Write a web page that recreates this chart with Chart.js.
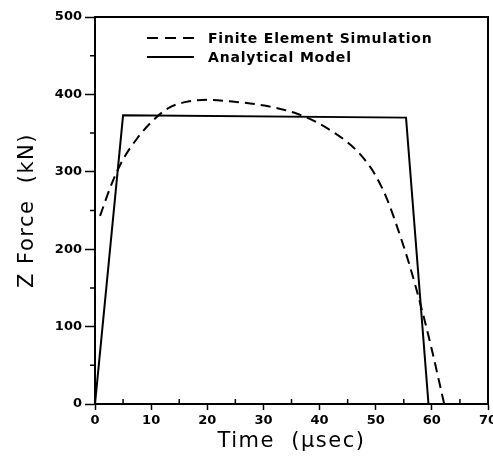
<!DOCTYPE html>
<html><head><meta charset="utf-8">
<script src="https://cdn.jsdelivr.net/npm/chart.js@4"></script>
<style>html,body{margin:0;padding:0;background:#fff}</style>
</head><body>
<canvas id="c" width="493" height="463"></canvas>
<script>
// ---- data ----
const feTime  = [0.9, 3, 5, 7.5, 10, 13, 16, 20, 24, 28, 32, 36, 39.5, 42.5, 45.5, 48, 50, 52, 54, 56, 58, 60, 62.2];
const feForce = [243, 285, 316, 343, 364, 382, 390, 393, 391, 388, 383, 375, 364, 351, 335, 316, 295, 265, 225, 180, 128, 70, 0];
const amTime  = [0, 5, 55.4, 59.4];
const amForce = [0, 373, 370, 0];
const xTicks  = [0, 10, 20, 30, 40, 50, 60, 70];
const yTicks  = [0, 100, 200, 300, 400, 500];
const xMinor  = [5, 15, 25, 35, 45, 55, 65];
const yMinor  = [50, 150, 250, 350, 450];
const seriesLabels = ['Finite Element Simulation', 'Analytical Model'];
const xTitle = 'Time  (\u03bcsec)';
const yTitle = 'Z Force  (kN)';

const toXY = (xs, ys) => xs.map((x, i) => ({x, y: ys[i]}));

// widen only the axis-title lettering
function spacedTitle(s) {
  if (s._spaced) return;
  const orig = s.drawTitle.bind(s);
  s.drawTitle = function () {
    const c = this.ctx; const prev = c.letterSpacing;
    c.letterSpacing = '1.5px'; orig(); c.letterSpacing = prev;
  };
  s._spaced = true;
}

const frame = {
  id: 'frame',
  afterDatasetsDraw(chart) {
    const {ctx, chartArea: a, scales: {x, y}} = chart;
    ctx.save();
    ctx.strokeStyle = '#000';
    ctx.lineWidth = 2;
    ctx.beginPath();
    ctx.moveTo(a.left, a.top); ctx.lineTo(a.right, a.top); ctx.lineTo(a.right, a.bottom);
    ctx.stroke();
    ctx.lineWidth = 1.5;
    ctx.beginPath();
    xMinor.forEach(v => { const px = x.getPixelForValue(v); ctx.moveTo(px, a.bottom); ctx.lineTo(px, a.bottom - 5); });
    yMinor.forEach(v => { const py = y.getPixelForValue(v); ctx.moveTo(a.left, py); ctx.lineTo(a.left - 5, py); });
    ctx.stroke();
    // legend
    const rows = [{y: 38, dash: [11, 7]}, {y: 57, dash: []}];
    ctx.letterSpacing = '0.8px';
    ctx.font = 'bold 14px "DejaVu Sans"';
    ctx.fillStyle = '#000';
    ctx.textBaseline = 'alphabetic';
    rows.forEach((r, i) => {
      ctx.setLineDash(r.dash);
      ctx.lineWidth = 2;
      ctx.beginPath(); ctx.moveTo(147, r.y); ctx.lineTo(194, r.y); ctx.stroke();
      ctx.setLineDash([]);
      ctx.fillText(chart.data.datasets[i].label, 208, r.y + 5);
    });
    ctx.restore();
  }
};

new Chart(document.getElementById('c'), {
  type: 'line',
  data: {
    datasets: [
      {label: seriesLabels[0], data: toXY(feTime, feForce), borderColor: '#000', borderWidth: 2,
       borderDash: [10, 6], pointRadius: 0, cubicInterpolationMode: 'monotone', fill: false},
      {label: seriesLabels[1], data: toXY(amTime, amForce), borderColor: '#000', borderWidth: 2,
       pointRadius: 0, tension: 0, fill: false}
    ]
  },
  options: {
    responsive: false,
    animation: false,
    layout: {padding: {top: 17, right: 5, left: 0, bottom: 0}},
    plugins: {legend: {display: false}, tooltip: {enabled: false}},
    scales: {
      x: {
        type: 'linear', min: 0, max: 70,
        afterBuildTicks: s => { s.ticks = xTicks.map(v => ({value: v})); },
        afterFit: s => { s.height = 59; s.paddingLeft = 0; s.paddingRight = 0; spacedTitle(s); },
        ticks: {color: '#000', font: {family: 'DejaVu Sans', weight: 'bold', size: 13}, padding: 3, maxRotation: 0, autoSkip: false},
        grid: {drawOnChartArea: false, drawTicks: true, tickLength: 6, tickWidth: 1.5, tickColor: '#000'},
        border: {color: '#000', width: 2},
        title: {display: true, text: xTitle, color: '#000', font: {family: 'DejaVu Sans', size: 21}, padding: {top: 0, bottom: 9}}
      },
      y: {
        min: 0, max: 500,
        afterBuildTicks: s => { s.ticks = yTicks.map(v => ({value: v})); },
        afterFit: s => { s.width = 95; s.paddingTop = 0; s.paddingBottom = 0; spacedTitle(s); },
        ticks: {color: '#000', font: {family: 'DejaVu Sans', weight: 'bold', size: 13}, padding: 3, autoSkip: false},
        grid: {drawOnChartArea: false, drawTicks: true, tickLength: 10, tickWidth: 1.5, tickColor: '#000'},
        border: {color: '#000', width: 2},
        title: {display: true, text: yTitle, color: '#000', font: {family: 'DejaVu Sans', size: 21}, padding: {top: 15, bottom: 0}}
      }
    }
  },
  plugins: [frame]
});
</script>
</body></html>
